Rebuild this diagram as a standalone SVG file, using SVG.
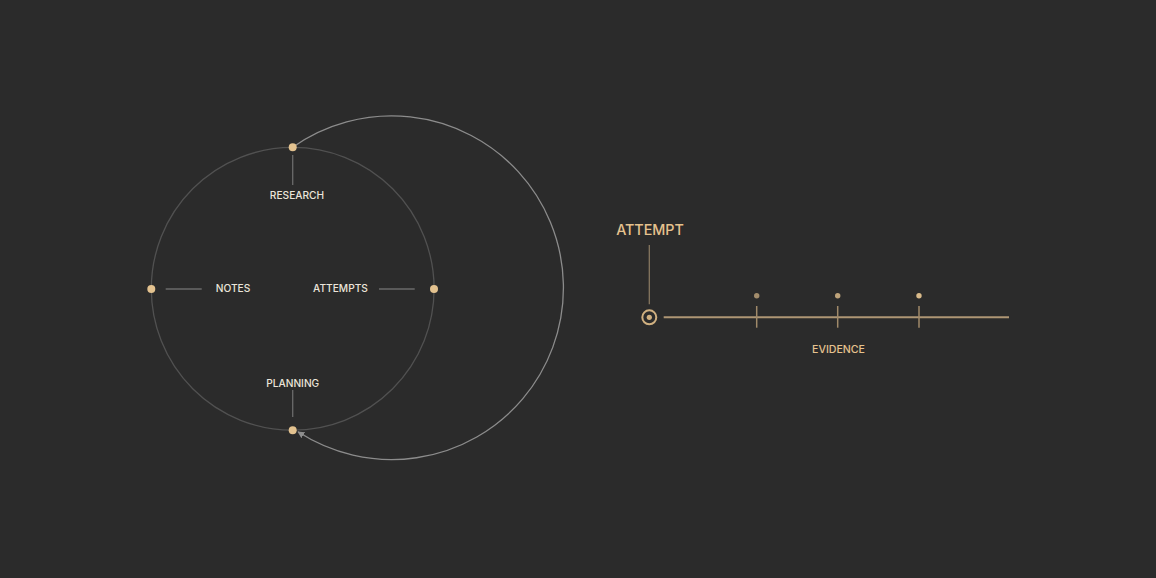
<svg xmlns="http://www.w3.org/2000/svg" width="1156" height="578" viewBox="0 0 1156 578">
  <defs>
    <style>
      .lbl { font-family: Inter, "Liberation Sans", Arial, sans-serif; font-weight: 500; font-size: 10.2px; fill: #ebe5da; text-anchor: middle; }
      .gold { font-family: Inter, "Liberation Sans", Arial, sans-serif; font-weight: 500; fill: #e6c28e; text-anchor: middle; }
      .dot { fill: #e3c28f; }
      .lead { stroke: #6b6b6b; stroke-width: 1.3; }
      .tick { stroke: #a08a6a; stroke-width: 1.5; }
    </style>
    <marker id="arr" viewBox="0 0 10 10" refX="9" refY="5" markerWidth="7" markerHeight="7" markerUnits="userSpaceOnUse" orient="auto">
      <path d="M0,0 L10,5 L0,10 Z" fill="#8e8e8e"/>
    </marker>
  </defs>
  <rect width="1156" height="578" fill="#2b2b2b"/>

  <g id="connectors" fill="none">
    <circle cx="292.7" cy="288.8" r="141.4" stroke="#515151" stroke-width="1.3"/>
    <path d="M292.7,147.3 A171.8,171.8 0 1 1 298,431.8" stroke="#8c8c8c" stroke-width="1.3" marker-end="url(#arr)"/>
    <line class="lead" x1="292.7" y1="155" x2="292.7" y2="185"/>
    <line class="lead" x1="292.7" y1="390" x2="292.7" y2="417"/>
    <line class="lead" x1="165.7" y1="289" x2="201.7" y2="289"/>
    <line class="lead" x1="379" y1="289" x2="414.7" y2="289"/>
    <line x1="649.3" y1="245" x2="649.3" y2="304.3" stroke="#85765f" stroke-width="1.3"/>
    <line x1="663.7" y1="317.3" x2="1009" y2="317.3" stroke="#ae9674" stroke-width="2"/>
  </g>

  <g id="research">
    <circle class="dot" cx="292.7" cy="147.3" r="4"/>
    <text class="lbl" x="297" y="199">RESEARCH</text>
  </g>
  <g id="notes">
    <circle class="dot" cx="151.3" cy="289" r="4"/>
    <text class="lbl" x="233" y="291.7">NOTES</text>
  </g>
  <g id="attempts">
    <circle class="dot" cx="434" cy="289" r="4"/>
    <text class="lbl" x="340.5" y="291.7">ATTEMPTS</text>
  </g>
  <g id="planning">
    <circle class="dot" cx="292.7" cy="430.3" r="4"/>
    <text class="lbl" x="292.7" y="386.7">PLANNING</text>
  </g>

  <g id="attempt">
    <text class="gold" x="650" y="235" font-size="14.3">ATTEMPT</text>
    <circle cx="649.3" cy="317.3" r="7" fill="none" stroke="#d0b080" stroke-width="2"/>
    <circle cx="649.3" cy="317.3" r="2.6" fill="#d0b080"/>
  </g>

  <g id="evidence">
    <line class="tick" x1="756.7" y1="306" x2="756.7" y2="327.7"/>
    <line class="tick" x1="837.7" y1="306" x2="837.7" y2="327.7"/>
    <line class="tick" x1="919" y1="306" x2="919" y2="327.7"/>
    <circle cx="756.7" cy="295.7" r="2.7" fill="#e3c28f" opacity="0.65"/>
    <circle cx="837.7" cy="295.7" r="2.7" fill="#e3c28f" opacity="0.8"/>
    <circle cx="919" cy="295.7" r="2.7" fill="#e3c28f" opacity="0.95"/>
    <text class="gold" x="838.5" y="352.7" font-size="10.6">EVIDENCE</text>
  </g>
</svg>
